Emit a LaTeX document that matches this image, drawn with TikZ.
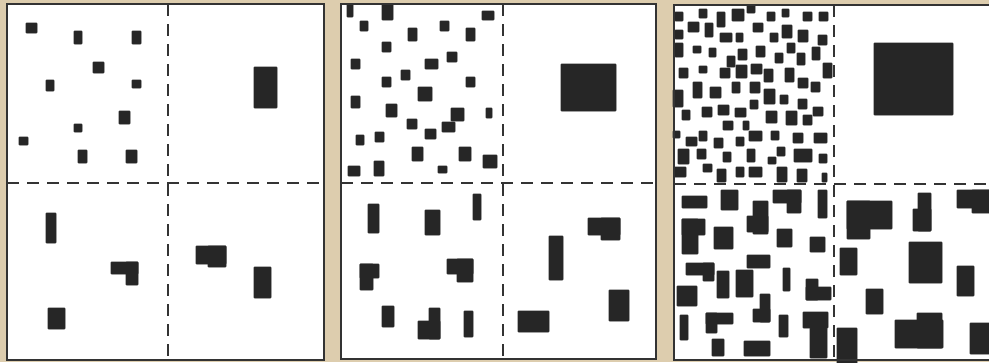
\documentclass[tikz,border=0pt]{standalone}
\definecolor{cbeige}{HTML}{DDCDAE}
\definecolor{cink}{HTML}{262626}
\definecolor{cframe}{HTML}{333333}
\tikzset{
  every picture/.style={line width=1.2pt},
  blk/.style={fill=cink, draw=cink, line width=0.8pt, rounded corners=0.8pt},
  panel/.style={draw=cframe, fill=white, line width=2pt},
  divide/.style={draw=cframe, dash pattern=on 12pt off 8pt, line width=2.2pt},
}
\newcommand{\drawblocks}[1]{\foreach \xa/\ya/\xb/\yb in {#1} {\filldraw[blk] (\xa,\ya) rectangle (\xb,\yb);}}

\begin{document}
\begin{tikzpicture}[x=1pt, y=-1pt]
  \clip (0,0) rectangle (989,362);
  \fill[cbeige] (0,0) rectangle (989,362);
  \draw[panel] (7,4) rectangle (324,360);
  \draw[panel] (341,4) rectangle (656,359);
  \draw[panel] (674,5) rectangle (1000,360);
  % sparse
  \drawblocks{26/23/37/33, 74/31/82/44, 132/31/141/44, 93/62/104/73, 46/80/54/91, 132/80/141/88,
    119/111/130/124, 74/124/82/132, 19/137/28/145, 78/150/87/163, 126/150/137/163}
  \drawblocks{254/67/277/108}
  \drawblocks{46/213/56/243, 111/262/138/274, 126/262/138/285, 48/308/65/329}
  \drawblocks{196/246/226/264, 208/246/226/267, 254/267/271/298}
  % medium
  \drawblocks{347/4/353/17, 382/4/393/20, 482/11/494/20, 360/21/368/31, 440/21/449/31, 408/28/417/41,
    466/28/475/41, 382/42/391/52, 351/59/360/69, 425/59/438/69, 447/52/457/62, 401/70/410/80,
    382/77/391/87, 466/77/475/87, 418/87/432/101, 351/96/360/108, 386/104/397/117, 451/108/464/121,
    486/108/492/118, 407/119/417/129, 442/122/455/132, 425/129/436/139, 356/135/364/145, 375/132/384/142,
    412/147/423/161, 459/147/471/161, 483/155/497/168, 348/166/360/176, 374/161/384/176, 438/166/447/173}
  \drawblocks{561/64/616/111}
  \drawblocks{368/204/379/233, 425/210/440/235, 473/194/481/220, 360/264/379/278, 360/264/373/290,
    447/259/473/274, 457/259/473/282, 382/306/394/327, 418/321/440/339, 429/308/440/339, 464/311/473/337}
  \drawblocks{588/218/620/235, 601/218/620/240, 549/236/563/280, 609/290/629/321, 518/311/549/332}
  % dense
  \drawblocks{675/12/683/21, 699/9/707/18, 717/12/725/27, 732/9/744/21, 747/5/755/13, 767/12/775/21,
    782/9/789/17, 803/12/812/21, 819/12/828/21,
    675/30/683/39, 688/22/699/32, 705/23/713/37, 720/33/732/42, 736/33/743/42, 753/23/763/32,
    770/33/778/42, 782/25/792/38, 798/30/808/42, 818/35/827/45,
    675/43/683/57, 693/46/701/53, 709/48/716/57, 727/56/735/67, 738/49/747/60, 756/46/765/57,
    775/53/783/63, 787/43/795/53, 797/53/805/65, 812/47/820/60, 823/63/832/78,
    679/68/688/78, 699/66/707/73, 720/68/730/78, 736/65/747/78, 751/64/762/74, 764/69/773/82,
    785/68/794/82, 798/78/808/88, 811/82/820/92,
    693/82/702/98, 710/87/721/98, 732/82/740/93, 750/82/760/93, 764/89/775/104,
    673/90/683/107, 780/95/788/104, 750/100/758/109, 798/99/807/109,
    682/110/690/120, 702/107/712/117, 718/105/729/115, 735/108/746/117, 766/111/777/123,
    786/111/797/125, 803/115/812/125, 813/107/823/116, 723/121/733/130, 743/121/749/130,
    673/131/680/138, 686/137/697/146, 699/131/707/141, 714/138/723/148, 736/137/744/146,
    749/131/762/141, 771/131/779/140, 793/133/803/143, 814/133/827/143,
    678/149/689/164, 697/149/706/159, 723/152/731/162, 747/149/755/162, 768/157/776/164,
    777/147/785/156, 794/149/812/162, 819/154/827/163,
    674/167/686/177, 703/164/712/172, 717/169/726/182, 736/167/744/177, 749/167/762/177,
    777/167/787/182, 797/169/807/182, 822/173/827/182}
  \drawblocks{874/43/953/115}
  \drawblocks{682/196/707/208, 721/190/738/210, 773/190/801/203, 787/190/801/213, 818/190/827/218,
    753/201/768/234, 747/216/768/232, 682/219/705/235, 682/219/698/254, 714/227/733/249,
    777/229/792/247, 810/237/825/252, 747/255/770/268, 686/263/714/275, 703/263/714/281,
    717/271/729/298, 736/270/753/297, 783/268/790/291, 806/279/818/300, 806/287/831/300,
    677/286/697/306, 760/294/770/322, 753/309/770/322, 680/315/688/340, 706/313/733/324,
    706/313/717/333, 779/315/788/337, 803/312/828/328, 810/328/827/358, 712/339/724/356, 744/341/770/356}
  \drawblocks{847/201/892/229, 847/201/870/239, 918/193/931/231, 913/209/931/231, 957/190/995/208,
    972/190/995/213, 840/248/857/275, 909/242/942/283, 957/266/974/296, 866/289/883/314,
    895/320/943/348, 917/313/942/348, 837/328/857/365, 970/323/995/354}
  \draw[divide] (168,4) -- (168,360);
  \draw[divide] (7,183) -- (324,183);
  \draw[divide] (503,4) -- (503,359);
  \draw[divide] (341,183) -- (656,183);
  \draw[divide] (834,5) -- (834,360);
  \draw[divide] (674,184) -- (1000,184);
  \draw[cframe, line width=2pt] (7,4) rectangle (324,360) (341,4) rectangle (656,359) (674,5) rectangle (1000,360);
\end{tikzpicture}
\end{document}
